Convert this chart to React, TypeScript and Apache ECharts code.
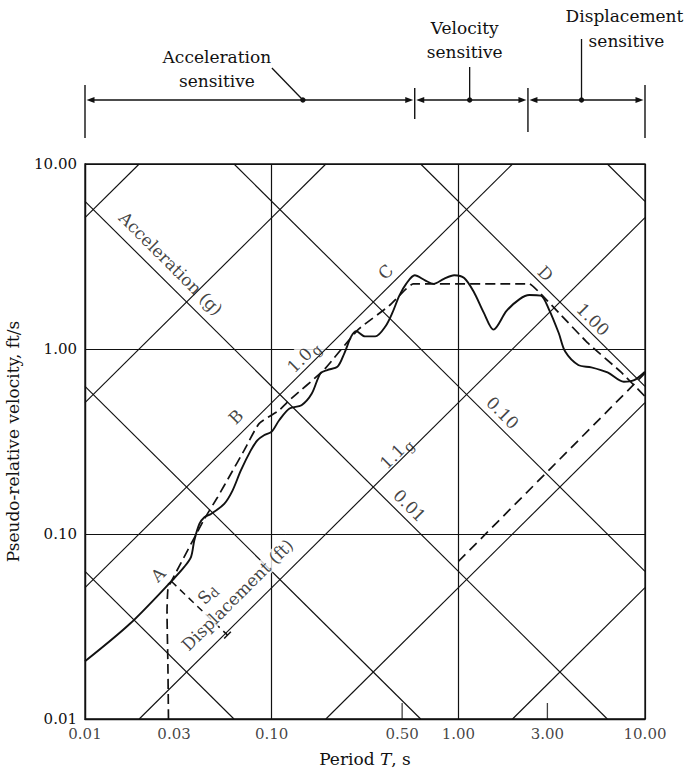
import React, { useEffect, useRef } from 'react';
import * as echarts from 'echarts';

const FONT = 'DejaVu Serif';
const INK = '#111111';

// ---- axes ----
const xTickValues = [0.01, 0.03, 0.1, 0.5, 1, 3, 10];
const xTickLabels = ['0.01', '0.03', '0.10', '0.50', '1.00', '3.00', '10.00'];
const xShortTicks = [0.5, 3];

// ---- tripartite grid (constant displacement / constant acceleration) ----
const displacementLinesFt = [0.0001, 0.001, 0.01, 0.1, 1, 10];
const accelerationLinesG = [0.001, 0.01, 0.1, 1, 10, 100];
const gravityFtPerS2 = 32.2;

// ---- response spectrum (solid) ----
const responsePeriod = [
  0.01, 0.0174, 0.029, 0.0341, 0.037, 0.0385, 0.041, 0.0436, 0.0473, 0.0557,
  0.0617, 0.0684, 0.0773, 0.0838, 0.091, 0.1, 0.1097, 0.1246, 0.1445, 0.1641,
  0.1824, 0.1985, 0.2254, 0.2451, 0.2669, 0.2843, 0.316, 0.3588, 0.4074, 0.4436,
  0.4831, 0.5253, 0.5843, 0.6634, 0.7372, 0.8372, 0.9504, 1.075, 1.213, 1.368,
  1.543, 1.812, 2.13, 2.403, 2.763, 3.057, 3.45, 3.736, 4.39, 5.152,
  6.302, 7.698, 8.683, 10,
];
const responseVelocity = [
  0.0205, 0.0327, 0.0555, 0.0666, 0.0753, 0.0922, 0.1133, 0.1232, 0.1284, 0.1455,
  0.1717, 0.2206, 0.2831, 0.3208, 0.3416, 0.3575, 0.4119, 0.4768, 0.4969, 0.5747,
  0.738, 0.7694, 0.8025, 0.9478, 1.17, 1.247, 1.17, 1.17, 1.328, 1.572,
  1.943, 2.25, 2.503, 2.349, 2.25, 2.397, 2.503, 2.419, 2.026, 1.572,
  1.272, 1.606, 1.861, 1.957, 1.943, 1.639, 1.22, 0.968, 0.819, 0.796,
  0.747, 0.665, 0.676, 0.754,
];

// ---- idealised design spectrum (dashed) ----
const designPeriod = [
  0.028, 0.0278, 0.0275, 0.0278, 0.029, 0.0436, 0.0513, 0.0605, 0.0712, 0.0856,
  0.1097, 0.1246, 0.1901, 0.2905, 0.4254, 0.5253, 0.5719, 2.403, 2.71, 3.45,
  4.952, 7.397, 10,
];
const designVelocity = [
  0.01, 0.0198, 0.0377, 0.0501, 0.0555, 0.1206, 0.1581, 0.2117, 0.2831, 0.3953,
  0.4667, 0.529, 0.7694, 1.272, 1.711, 2.112, 2.25, 2.25, 2.026, 1.572,
  1.075, 0.754, 0.554,
];
const designTailPeriod = [1.0, 10];
const designTailVelocity = [0.071, 0.74];

// ---- Sd dimension ----
const sdPeriod = [0.029, 0.058];
const sdVelocity = [0.0555, 0.0284];

// ---- region bar on top ----
const regionBounds = [0.01, 0.584, 2.36, 10];
const regionCentres = [0.147, 1.15, 4.57];
const regionTitles = [
  ['Acceleration', 'sensitive'],
  ['Velocity', 'sensitive'],
  ['Displacement', 'sensitive'],
];

// ---- in-plot labels ----
const labelTexts = ['Acceleration (g)', '1.0g', '1.1g', '0.01', '0.10', '1.00', 'A', 'B', 'C', 'D', 'Sd', 'Displacement (ft)'];
const labelPeriods = [0.0288, 0.1475, 0.4626, 0.548, 1.727, 5.26, 0.0246, 0.0643, 0.4074, 2.935, 0.0454, 0.0655];
const labelVelocities = [2.9, 0.909, 0.274, 0.1424, 0.4518, 1.444, 0.0602, 0.4297, 2.61, 2.555, 0.0472, 0.0468];
const labelAngles = [-45, 45, 45, -45, -45, -45, 45, 45, 45, -45, 45, 45];
const maskUnderLines = ['1.0g'];
const maskOverLines = ['Displacement (ft)'];

const T_MIN = 0.01, T_MAX = 10, V_MIN = 0.01, V_MAX = 10;

function zip(a: number[], b: number[]) {
  return a.map((v, i) => [v, b[i]]);
}

function richFormat(t: string) {
  if (t === '1.0g' || t === '1.1g') return `{n|${t.slice(0, 3)}}{g|g}`;
  if (t === 'Sd') return '{n|S}{d|d}';
  return `{n|${t}}`;
}

const rich = {
  n: { fontFamily: FONT, fontSize: 17, color: INK, textBorderWidth: 0 },
  g: { fontFamily: FONT, fontSize: 14, color: INK, textBorderWidth: 0, padding: [9, 0, 0, 1] },
  d: { fontFamily: FONT, fontSize: 13, color: INK, textBorderWidth: 0, padding: [7, 0, 0, 0] },
};

function buildOption(): any {
  const series: any[] = [];
  const gridLine = (pts: number[][]) => ({
    type: 'line', data: pts, symbol: 'none', silent: true, z: 2, clip: true,
    lineStyle: { color: INK, width: 1.15 },
  });
  displacementLinesFt.forEach((sd) => {
    const a = 2 * Math.PI * sd; // V = a / T
    const t1 = Math.max(T_MIN, a / V_MAX);
    const t2 = Math.min(T_MAX, a / V_MIN);
    if (t1 < t2) series.push(gridLine([[t1, a / t1], [t2, a / t2]]));
  });
  accelerationLinesG.forEach((ag) => {
    const b = (ag * gravityFtPerS2) / (2 * Math.PI); // V = b * T
    const t1 = Math.max(T_MIN, V_MIN / b);
    const t2 = Math.min(T_MAX, V_MAX / b);
    if (t1 < t2) series.push(gridLine([[t1, b * t1], [t2, b * t2]]));
  });

  series.push({
    type: 'line', data: zip(responsePeriod, responseVelocity), smooth: 0.3, symbol: 'none',
    z: 4, lineStyle: { color: INK, width: 1.9 }, silent: true,
  });
  series.push({
    type: 'line', data: zip(designPeriod, designVelocity), smooth: 0.15, symbol: 'none',
    z: 4, lineStyle: { color: INK, width: 1.7, type: [10, 5] }, silent: true,
  });
  series.push({
    type: 'line', data: zip(designTailPeriod, designTailVelocity), symbol: 'none',
    z: 4, lineStyle: { color: INK, width: 1.7, type: [10, 6] }, silent: true,
  });
  series.push({
    type: 'line', data: zip(sdPeriod, sdVelocity), symbol: 'none',
    z: 2.5, lineStyle: { color: INK, width: 1.5, type: [7, 5] }, silent: true,
  });
  // perpendicular end marks of the Sd dimension
  const d = 0.018;
  sdPeriod.forEach((t, i) => {
    const v = sdVelocity[i];
    const f = Math.pow(10, d);
    series.push({
      type: 'line', data: [[t / f, v / f], [t * f, v * f]], symbol: 'none', z: 2.5,
      lineStyle: { color: INK, width: 1.5 }, silent: true,
    });
  });

  const labelItem = (i: number) => ({
    value: [labelPeriods[i], labelVelocities[i]],
    label: {
      show: true, position: 'inside', rotate: labelAngles[i],
      formatter: richFormat(labelTexts[i]), rich,
      color: INK, textBorderWidth: 0, textBorderColor: 'transparent',
      fontFamily: FONT, fontSize: 17,
      backgroundColor: maskUnderLines.includes(labelTexts[i]) || maskOverLines.includes(labelTexts[i]) ? '#fff' : 'transparent',
      padding: [0, 2, 0, 2],
    },
  });
  const idx = labelTexts.map((_, i) => i);
  const labelSeries = (ids: number[], z: number) => ({
    type: 'scatter', symbolSize: 1, itemStyle: { color: 'transparent' }, silent: true, z, clip: false,
    data: ids.map(labelItem),
  });
  series.push(labelSeries(idx.filter((i) => maskUnderLines.includes(labelTexts[i])), 1));
  series.push(labelSeries(idx.filter((i) => !maskUnderLines.includes(labelTexts[i])), 3));

  // x tick labels
  series.push({
    type: 'scatter', symbolSize: 1, itemStyle: { color: 'transparent' }, silent: true, z: 5, clip: false,
    data: xTickValues.map((t) => [t, V_MIN]),
    label: {
      show: true, position: 'bottom', distance: 7,
      formatter: (p: any) => xTickLabels[p.dataIndex],
      fontFamily: FONT, fontSize: 15, color: INK, textBorderWidth: 0,
    },
  });
  // short inner ticks
  series.push({
    type: 'scatter', symbol: 'rect', symbolSize: [1.3, 16], symbolOffset: [0, -8],
    itemStyle: { color: INK }, silent: true, z: 5, clip: false,
    data: xShortTicks.map((t) => [t, V_MIN]),
  });

  return {
    animation: false,
    backgroundColor: '#fff',
    grid: {
      left: 85, right: 41, top: 164, bottom: 62, show: true, borderColor: INK, borderWidth: 1.3,
      backgroundColor: 'transparent', containLabel: false, outerBoundsMode: 'none',
    },
    xAxis: {
      type: 'log', logBase: 10, min: T_MIN, max: T_MAX, splitNumber: 3,
      axisLine: { show: true, lineStyle: { color: INK, width: 1.3 } },
      axisTick: { show: false },
      axisLabel: { show: false },
      splitLine: { show: true, lineStyle: { color: INK, width: 1.2 } },
      minorSplitLine: { show: false },
      name: 'Period {i|T}, s', nameLocation: 'middle', nameGap: 31,
      nameTextStyle: {
        fontFamily: FONT, fontSize: 17, color: INK,
        rich: { i: { fontFamily: FONT, fontSize: 17, color: INK, fontStyle: 'italic' } },
      },
    },
    yAxis: {
      type: 'log', logBase: 10, min: V_MIN, max: V_MAX, splitNumber: 3,
      axisLine: { show: true, lineStyle: { color: INK, width: 1.3 } },
      axisTick: { show: false },
      axisLabel: {
        show: true, margin: 8, fontFamily: FONT, fontSize: 15, color: INK,
        formatter: (v: number) => Number(v).toFixed(2),
      },
      splitLine: { show: true, lineStyle: { color: INK, width: 1.2 } },
      name: 'Pseudo-relative velocity, ft/s', nameLocation: 'middle', nameGap: 64,
      nameTextStyle: { fontFamily: FONT, fontSize: 17, color: INK },
    },
    series,
  };
}

function buildTopBar(chart: any): any[] {
  const px = (t: number) => chart.convertToPixel({ xAxisIndex: 0 }, t) as number;
  const xs = regionBounds.map(px);
  const dots = regionCentres.map(px);
  const y0 = 100;
  const els: any[] = [];
  const line = (x1: number, y1: number, x2: number, y2: number, w = 1.3) => ({
    type: 'line', silent: true, shape: { x1, y1, x2, y2 }, style: { stroke: INK, lineWidth: w },
  });
  const arrow = (tip: number, dir: number) => ({
    type: 'polygon', silent: true,
    shape: { points: [[tip, y0], [tip - dir * 8, y0 - 3], [tip - dir * 8, y0 + 3]] },
    style: { fill: INK },
  });
  const tickSpans = [[85, 138], [88, 119], [88, 132], [85, 138]];
  xs.forEach((x, i) => els.push(line(x, tickSpans[i][0], x, tickSpans[i][1], 1.4)));
  for (let i = 0; i < 3; i++) {
    const a = xs[i] + 1.5, b = xs[i + 1] - 1.5;
    els.push(line(a + 4, y0, b - 4, y0, 1.3));
    els.push(arrow(a, -1));
    els.push(arrow(b, 1));
  }
  dots.forEach((x) => els.push({ type: 'circle', silent: true, shape: { cx: x, cy: y0, r: 2.7 }, style: { fill: INK } }));
  els.push(line(dots[0] - 31, 68, dots[0], y0, 1.3));
  els.push(line(dots[1], 67, dots[1], y0, 1.3));
  els.push(line(dots[2], 39, dots[2], y0, 1.3));
  const textPos = [
    [[dots[0] - 86, 57], [dots[0] - 86, 81]],
    [[dots[1] - 5, 28], [dots[1] - 5, 52]],
    [[dots[2] + 43, 16], [dots[2] + 45, 41]],
  ];
  regionTitles.forEach((lines, i) => {
    lines.forEach((txt, j) => {
      els.push({
        type: 'text', silent: true,
        style: {
          text: txt, x: textPos[i][j][0], y: textPos[i][j][1],
          align: 'center', verticalAlign: 'middle',
          fontFamily: FONT, fontSize: 17, fill: INK,
        },
      });
    });
  });
  return els;
}

export default function App() {
  const ref = useRef<HTMLDivElement>(null);
  useEffect(() => {
    document.body.style.margin = '0';
    if (!ref.current) return;
    const chart = echarts.init(ref.current, null, { renderer: 'svg' });
    chart.setOption(buildOption());
    chart.setOption({ graphic: buildTopBar(chart) });
    return () => chart.dispose();
  }, []);
  return <div ref={ref} style={{ width: 686, height: 781, background: '#fff' }} />;
}
